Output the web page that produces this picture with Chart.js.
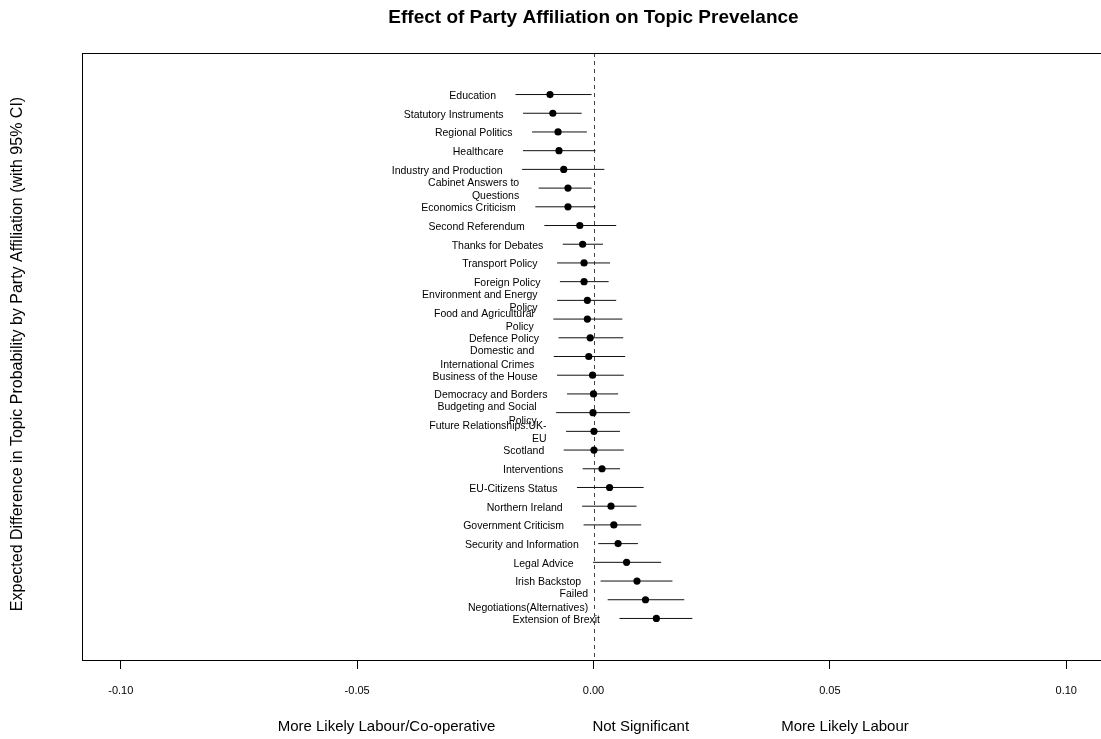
<!DOCTYPE html>
<html>
<head>
<meta charset="utf-8">
<script src="https://cdn.jsdelivr.net/npm/chart.js@4"></script>
<style>
  html, body { margin: 0; padding: 0; background: #fff; overflow: hidden; }
  canvas { display: block; }
</style>
</head>
<body>
<canvas id="effectChart" width="1110" height="739" style="width:1110px;height:739px"></canvas>
<script>
// Topics, top to bottom
const topics = [
    'Education', 'Statutory Instruments', 'Regional Politics', 'Healthcare',
    'Industry and Production', 'Cabinet Answers to\nQuestions', 'Economics Criticism',
    'Second Referendum', 'Thanks for Debates', 'Transport Policy', 'Foreign Policy',
    'Environment and Energy\nPolicy', 'Food and Agricultural\nPolicy', 'Defence Policy',
    'Domestic and\nInternational Crimes', 'Business of the House', 'Democracy and Borders',
    'Budgeting and Social\nPolicy', 'Future Relationships:UK-\nEU', 'Scotland',
    'Interventions', 'EU-Citizens Status', 'Northern Ireland', 'Government Criticism',
    'Security and Information', 'Legal Advice', 'Irish Backstop',
    'Failed\nNegotiations(Alternatives)', 'Extension of Brexit'
];

// Point estimates and 95% CI bounds
const estimates = [
    -0.0092, -0.0086, -0.0075, -0.0073, -0.0063, -0.0054, -0.0054,
    -0.0029, -0.0023, -0.0020, -0.0020, -0.0013, -0.0013, -0.0007,
    -0.0010, -0.0002, 0.0000, -0.0001, 0.0001, 0.0001,
    0.0018, 0.0034, 0.0037, 0.0043, 0.0052, 0.0070, 0.0092, 0.0110, 0.0133
];
const lowerCI = [
    -0.0165, -0.0149, -0.0130, -0.0149, -0.0151, -0.0116, -0.0123,
    -0.0104, -0.0065, -0.0077, -0.0071, -0.0077, -0.0085, -0.0074,
    -0.0084, -0.0077, -0.0056, -0.0079, -0.0058, -0.0063,
    -0.0023, -0.0035, -0.0024, -0.0021, 0.0010, -0.0001, 0.0015, 0.0030, 0.0055
];
const upperCI = [
    -0.0004, -0.0025, -0.0014, 0.0004, 0.0023, -0.0004, 0.0004,
    0.0048, 0.0020, 0.0035, 0.0032, 0.0048, 0.0061, 0.0063,
    0.0067, 0.0064, 0.0052, 0.0077, 0.0056, 0.0064,
    0.0056, 0.0106, 0.0091, 0.0101, 0.0094, 0.0143, 0.0167, 0.0192, 0.0209
];

const xTicks = [-0.10, -0.05, 0.00, 0.05, 0.10];

const sideLabels = [
    { text: 'More Likely Labour/Co-operative', x: -0.0438 },
    { text: 'Not Significant', x: 0.0100 },
    { text: 'More Likely Labour', x: 0.0532 }
];

const FONT = "'Liberation Sans', Arial, sans-serif";
Chart.defaults.color = '#000';
Chart.defaults.font.family = FONT;

// CI segments as one line dataset broken by gaps
const ciData = [];
topics.forEach((t, i) => {
    ciData.push({ x: lowerCI[i], y: i });
    ciData.push({ x: upperCI[i], y: i });
    ciData.push({ x: NaN, y: NaN });
});

// Box, zero line, topic labels and axis texts
const decorPlugin = {
    id: 'decor',
    beforeDatasetsDraw(chart) {
        const { ctx, chartArea: a, scales: { x } } = chart;
        ctx.save();
        ctx.strokeStyle = '#444';
        ctx.lineWidth = 1;
        ctx.setLineDash([4, 4]);
        const zx = Math.round(x.getPixelForValue(0)) + 0.5;
        ctx.beginPath();
        ctx.moveTo(zx, a.top);
        ctx.lineTo(zx, a.bottom);
        ctx.stroke();
        ctx.restore();
    },
    afterDraw(chart) {
        const { ctx, chartArea: a, scales: { x, y } } = chart;
        ctx.save();
        ctx.strokeStyle = '#000';
        ctx.lineWidth = 1;
        ctx.strokeRect(Math.round(a.left) + 0.5, Math.round(a.top) + 0.5,
            Math.round(a.right - a.left), Math.round(a.bottom - a.top));

        // topic labels, right aligned left of the lower CI end
        ctx.font = '10.5px ' + FONT;
        ctx.fillStyle = '#000';
        ctx.textAlign = 'right';
        ctx.textBaseline = 'middle';
        topics.forEach((t, i) => {
            const lines = t.split('\n');
            const px = x.getPixelForValue(lowerCI[i]) - 19.5;
            const py = y.getPixelForValue(i) + 1.5;
            const lh = 13.4;
            lines.forEach((ln, k) => {
                ctx.fillText(ln, px, py + (k - (lines.length - 1) / 2) * lh);
            });
        });

        // bottom annotations
        ctx.font = '15px ' + FONT;
        ctx.textAlign = 'center';
        sideLabels.forEach(s => {
            ctx.fillText(s.text, x.getPixelForValue(s.x), 727);
        });

        // y axis title
        ctx.font = '16px ' + FONT;
        ctx.translate(18, 354);
        ctx.rotate(-Math.PI / 2);
        ctx.fillText('Expected Difference in Topic Probability by Party Affiliation (with 95% CI)', 0, 0);
        ctx.restore();
    }
};

new Chart(document.getElementById('effectChart'), {
    type: 'scatter',
    data: {
        datasets: [
            {
                label: 'CI',
                data: ciData,
                showLine: true,
                spanGaps: false,
                borderColor: '#111',
                borderWidth: 1,
                pointRadius: 0,
                order: 2
            },
            {
                label: 'Estimate',
                data: estimates.map((v, i) => ({ x: v, y: i })),
                pointRadius: 3.6,
                pointBackgroundColor: '#000',
                pointBorderColor: '#000',
                pointBorderWidth: 0,
                order: 1
            }
        ]
    },
    options: {
        responsive: false,
        animation: false,
        devicePixelRatio: 1,
        layout: { padding: { left: 82, right: 5, top: 0, bottom: 0 } },
        plugins: {
            legend: { display: false },
            tooltip: { enabled: false },
            title: {
                display: true,
                text: 'Effect of Party Affiliation on Topic Prevelance',
                font: { size: 19, weight: 'bold', family: FONT },
                color: '#000',
                padding: { top: 6, bottom: 24.2 }
            }
        },
        scales: {
            x: {
                type: 'linear',
                min: -0.1082,
                max: 0.1082,
                afterBuildTicks: s => { s.ticks = xTicks.map(v => ({ value: v })); },
                afterFit: s => { s.height = 79; },
                ticks: {
                    font: { size: 11 },
                    padding: 15,
                    maxRotation: 0,
                    callback: v => v.toFixed(2)
                },
                grid: {
                    drawOnChartArea: false,
                    drawTicks: true,
                    tickLength: 9,
                    color: '#000'
                },
                border: { display: true, color: '#000' }
            },
            y: {
                type: 'linear',
                display: false,
                reverse: true,
                min: -2.22,
                max: 30.22
            }
        }
    },
    plugins: [decorPlugin]
});
</script>
</body>
</html>
